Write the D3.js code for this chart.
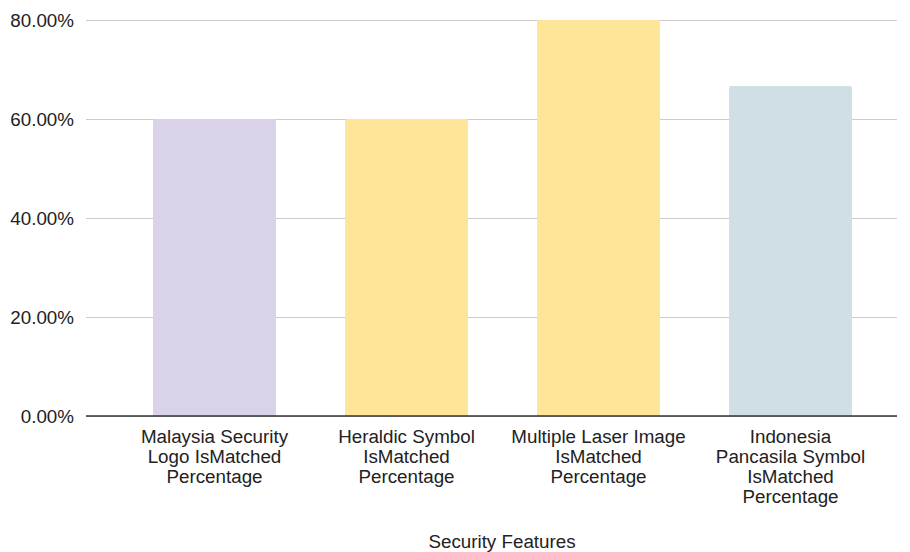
<!DOCTYPE html>
<html>
<head>
<meta charset="utf-8">
<script src="https://cdn.jsdelivr.net/npm/d3@7"></script>
<style>
  html, body { margin: 0; padding: 0; background: #fff; }
  svg { display: block; font-family: "Liberation Sans", Arial, sans-serif; }
</style>
</head>
<body>
<svg id="chart" width="910" height="552"></svg>
<script>
// Match rates per security feature
const categories = [
  "Malaysia Security Logo IsMatched Percentage",
  "Heraldic Symbol IsMatched Percentage",
  "Multiple Laser Image IsMatched Percentage",
  "Indonesia Pancasila Symbol IsMatched Percentage"
];
const labelLines = [
  ["Malaysia Security", "Logo IsMatched", "Percentage"],
  ["Heraldic Symbol", "IsMatched", "Percentage"],
  ["Multiple Laser Image", "IsMatched", "Percentage"],
  ["Indonesia", "Pancasila Symbol", "IsMatched", "Percentage"]
];
const values = [0.60, 0.60, 0.80, 0.6667];
const barColors = ["#d9d2e9", "#fee599", "#fee599", "#d0dfe3"];
const yTicks = [0, 0.2, 0.4, 0.6, 0.8];
const xTitle = "Security Features";

const FONT = "18.8px";
const svg = d3.select("#chart");
const plotLeft = 86, plotRight = 897, plotTop = 20, plotBottom = 416;

const x = d3.scaleBand()
  .domain(categories)
  .range([118.5, 886.5])
  .paddingInner(0.36)
  .paddingOuter(0.18);

const y = d3.scaleLinear()
  .domain([0, 0.8])
  .range([plotBottom, plotTop]);

// Gridlines and tick labels
const yAxis = d3.axisLeft(y)
  .tickValues(yTicks)
  .tickFormat(d3.format(".2%"))
  .tickSize(-(plotRight - plotLeft))
  .tickPadding(12);

const gy = svg.append("g")
  .attr("transform", `translate(${plotLeft},0)`)
  .call(yAxis);
gy.select(".domain").remove();
gy.selectAll(".tick line").attr("stroke", "#cccccc").attr("stroke-width", 1);
gy.selectAll(".tick text")
  .attr("fill", "#222")
  .style("font-size", FONT)
  .style("font-family", "'Liberation Sans', Arial, sans-serif");

// Bars with slightly rounded tops
svg.append("g").selectAll("path")
  .data(categories)
  .join("path")
  .attr("fill", (d, i) => barColors[i])
  .attr("d", (d, i) => {
    const x0 = x(d), w = x.bandwidth();
    const y0 = y(values[i]), yb = y(0);
    const r = 2;
    return `M${x0},${yb}V${y0 + r}Q${x0},${y0} ${x0 + r},${y0}H${x0 + w - r}Q${x0 + w},${y0} ${x0 + w},${y0 + r}V${yb}Z`;
  });

// Baseline
svg.append("line")
  .attr("x1", plotLeft).attr("x2", plotRight)
  .attr("y1", y(0)).attr("y2", y(0))
  .attr("stroke", "#333").attr("stroke-width", 1.3);

// Category labels
const lab = svg.append("g").selectAll("text")
  .data(categories)
  .join("text")
  .attr("text-anchor", "middle")
  .attr("fill", "#222")
  .style("font-size", FONT);
lab.each(function (d, i) {
  const t = d3.select(this);
  labelLines[i].forEach((line, k) => {
    t.append("tspan")
      .attr("x", x(d) + x.bandwidth() / 2)
      .attr("y", 443 + k * 20)
      .text(line);
  });
});

// Axis title
svg.append("text")
  .attr("x", 502)
  .attr("y", 548)
  .attr("text-anchor", "middle")
  .attr("fill", "#222")
  .style("font-size", FONT)
  .text(xTitle);
</script>
</body>
</html>
